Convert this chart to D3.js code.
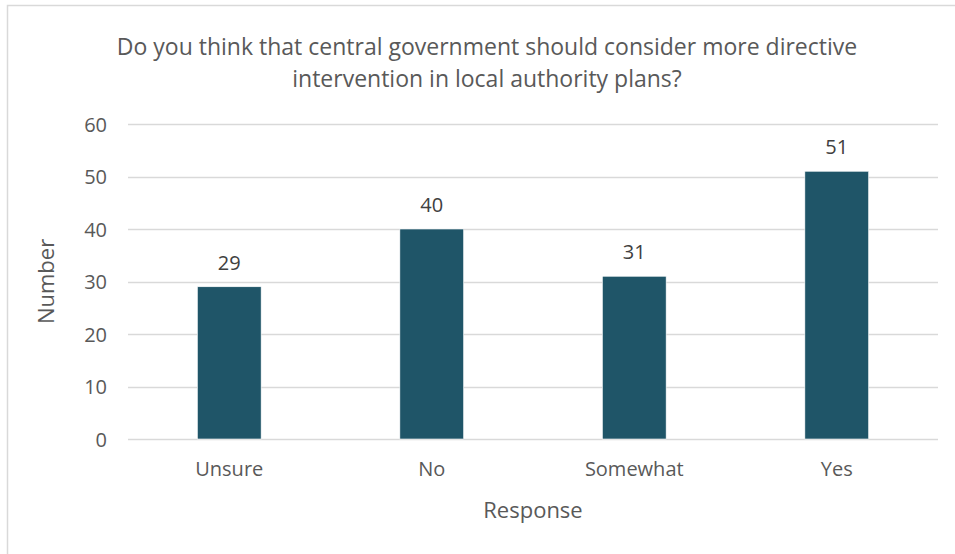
<!DOCTYPE html>
<html>
<head>
<meta charset="utf-8">
<script src="https://cdn.jsdelivr.net/npm/d3@7"></script>
<style>
  html, body { margin: 0; padding: 0; background: #fff; }
  svg { display: block; font-family: "Open Sans", "Noto Sans", sans-serif; }
</style>
</head>
<body>
<svg id="chart" width="955" height="554"></svg>
<script>
// Survey responses
const categories = ["Unsure", "No", "Somewhat", "Yes"];
const counts = [29, 40, 31, 51];
const yTicks = [0, 10, 20, 30, 40, 50, 60];
const titleLines = [
  "Do you think that central government should consider more directive",
  "intervention in local authority plans?"
];
const xTitle = "Response";
const yTitle = "Number";

const svg = d3.select("#chart");
const W = 955, H = 554;
const plot = { left: 128, right: 938, top: 124, bottom: 439 };

// Chart area frame (only left and top edges are inside the viewport)
svg.append("rect")
  .attr("x", 7.5).attr("y", 5.5)
  .attr("width", W).attr("height", H)
  .attr("fill", "#fff")
  .attr("stroke", "#d9d9d9").attr("stroke-width", 1.5);

const x = d3.scaleBand()
  .domain(categories)
  .range([plot.left, plot.right])
  .paddingInner(0.685)
  .paddingOuter(0.3425);

const y = d3.scaleLinear()
  .domain([0, 60])
  .range([plot.bottom, plot.top]);

// Horizontal gridlines
svg.append("g")
  .selectAll("line")
  .data(yTicks)
  .join("line")
  .attr("x1", plot.left).attr("x2", plot.right)
  .attr("y1", d => Math.round(y(d)) + 0.5)
  .attr("y2", d => Math.round(y(d)) + 0.5)
  .attr("stroke", "#d9d9d9")
  .attr("stroke-width", 1.5);

// Y axis tick labels
const yAxis = d3.axisLeft(y).tickValues(yTicks).tickSize(0).tickPadding(0);
const gy = svg.append("g")
  .attr("transform", `translate(${plot.left - 21},0)`)
  .call(yAxis);
gy.select(".domain").remove();
gy.selectAll("text")
  .attr("fill", "#595959")
  .style("font-size", "20px")
  .style("font-family", "'Open Sans', sans-serif")
  .attr("dy", "0.35em");

// X axis category labels
const xAxis = d3.axisBottom(x).tickSize(0).tickPadding(0);
const gx = svg.append("g")
  .attr("transform", `translate(0,${plot.bottom})`)
  .call(xAxis);
gx.select(".domain").remove();
gx.selectAll("text")
  .attr("fill", "#595959")
  .style("font-size", "20px")
  .style("font-family", "'Open Sans', sans-serif")
  .attr("y", 37)
  .attr("dy", 0);

// Bars
svg.append("g")
  .selectAll("rect")
  .data(categories.map((c, i) => ({ c, v: counts[i] })))
  .join("rect")
  .attr("x", d => x(d.c))
  .attr("width", x.bandwidth())
  .attr("y", d => y(d.v))
  .attr("height", d => y(0) - y(d.v))
  .attr("fill", "#1f5568")
  .attr("stroke", "#ffffff")
  .attr("stroke-width", 0.6);

// Value labels
svg.append("g")
  .selectAll("text")
  .data(categories.map((c, i) => ({ c, v: counts[i] })))
  .join("text")
  .attr("x", d => x(d.c) + x.bandwidth() / 2)
  .attr("y", d => y(d.v) - 17)
  .attr("text-anchor", "middle")
  .attr("fill", "#404040")
  .style("font-size", "20px")
  .text(d => d.v);

// Chart title
svg.append("text")
  .attr("text-anchor", "middle")
  .attr("fill", "#595959")
  .style("font-size", "23px")
  .selectAll("tspan")
  .data(titleLines)
  .join("tspan")
  .attr("x", 487)
  .attr("y", (d, i) => 55 + i * 32)
  .text(d => d);

// Axis titles
svg.append("text")
  .attr("x", (plot.left + plot.right) / 2)
  .attr("y", 518)
  .attr("text-anchor", "middle")
  .attr("fill", "#595959")
  .style("font-size", "22px")
  .text(xTitle);

svg.append("text")
  .attr("transform", `translate(54,${(plot.top + plot.bottom) / 2}) rotate(-90)`)
  .attr("text-anchor", "middle")
  .attr("fill", "#595959")
  .style("font-size", "22px")
  .text(yTitle);
</script>
</body>
</html>
